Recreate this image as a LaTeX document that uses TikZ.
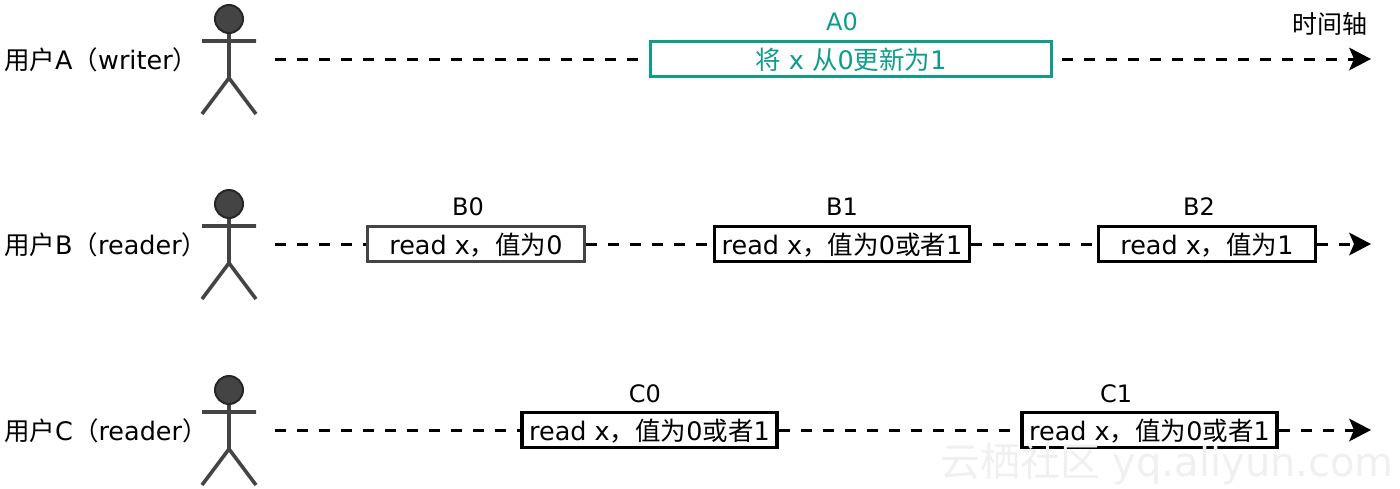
\documentclass[tikz,border=0pt]{standalone}
\usepackage{fontspec}
\setmainfont{DejaVu Sans}
\newfontfamily\cjk{Noto Sans CJK SC}
\usepackage{tikz}
\usetikzlibrary{arrows.meta,positioning}
\usepackage{xcolor}
\definecolor{teal}{HTML}{0F9D8A}
\definecolor{actorgray}{HTML}{444444}
\newcommand{\zh}[1]{{\cjk #1}}
\tikzset{
  x=1pt, y=-1pt,
  opbox/.style={draw=black, line width=3.5pt, fill=white, align=center, inner sep=0pt, minimum height=35pt, text depth=0pt, font=\fontsize{25.5}{29}\selectfont},
  tag/.style={inner sep=0pt, font=\fontsize{24}{28}\selectfont},
  rowlabel/.style={inner sep=0pt, anchor=west, font=\fontsize{25.5}{29}\selectfont},
  timeline/.style={line width=3pt, dash pattern=on 11pt off 11pt},
  timearrow/.style={timeline, -{Stealth[length=22pt,width=23pt,inset=5pt,line width=0pt]}},
  actor/.pic={
    \draw[actorgray, line width=3.6pt] (0,14) -- (0,59) (-27,22) -- (27,22) (-27,95) -- (0,59) -- (27,95);
    \draw[draw=black!85, fill=actorgray, line width=2pt] (0,0) circle (14);
  }
}
\begin{document}
\begin{tikzpicture}
\useasboundingbox (0,0) rectangle (1400,488);
% writer
\node[rowlabel] (la) at (4,60) {\zh{用户}A\zh{（}writer\zh{）}};
\pic at (229,19) {actor};
\coordinate (sa) at (275,59);
\coordinate (ea) at (1371,59);
\node[opbox, draw=teal, minimum width=401pt, text=teal] (a0) at (851,59) {\zh{将} x \zh{从}0\zh{更新为}1};
\node[tag, text=teal] (ta0) at (842,22) {A0};
\node[tag, anchor=east, font=\fontsize{25}{29}\selectfont] (axis) at (1368,24) {\zh{时间轴}};
\draw[timeline, shorten >=9pt] (sa) -- (a0.west);
\draw[timearrow, shorten <=9pt] (a0.east) -- (ea);
% reader B
\node[rowlabel] (lb) at (4,245) {\zh{用户}B\zh{（}reader\zh{）}};
\pic at (229,204) {actor};
\coordinate (sb) at (275,244);
\coordinate (eb) at (1371,244);
\node[opbox, draw=actorgray, minimum width=217pt] (b0) at (476,244) {read x\zh{，值为}0};
\node[opbox, minimum width=255pt] (b1) at (842,244) {read x\zh{，值为}0\zh{或者}1};
\node[opbox, minimum width=217pt] (b2) at (1207,244) {read x\zh{，值为}1};
\node[tag] (tb0) at (468,207) {B0};
\node[tag] (tb1) at (842,207) {B1};
\node[tag] (tb2) at (1199,207) {B2};
\draw[timeline] (sb) -- (b0.west);
\draw[timeline] (b0.east) -- (b1.west);
\draw[timeline] (b1.east) -- (b2.west);
\draw[timearrow] (b2.east) -- (eb);
% reader C
\node[rowlabel] (lc) at (4,431) {\zh{用户}C\zh{（}reader\zh{）}};
\pic at (229,390) {actor};
\coordinate (sc) at (275,430);
\coordinate (ec) at (1371,430);
\node[opbox, minimum width=255pt] (c0) at (649.5,430) {read x\zh{，值为}0\zh{或者}1};
\node[opbox, minimum width=255pt] (c1) at (1149.5,430) {read x\zh{，值为}0\zh{或者}1};
\node[tag] (tc0) at (645,394) {C0};
\node[tag] (tc1) at (1116,394) {C1};
\draw[timeline] (sc) -- (c0.west);
\draw[timeline] (c0.east) -- (c1.west);
\draw[timearrow] (c1.east) -- (ec);
% watermark
\node[inner sep=0pt, anchor=east, text=black!6, font=\fontsize{40}{44}\selectfont] (mark) at (1394,464) {\zh{云栖社区} yq.aliyun.com};
\end{tikzpicture}
\end{document}
